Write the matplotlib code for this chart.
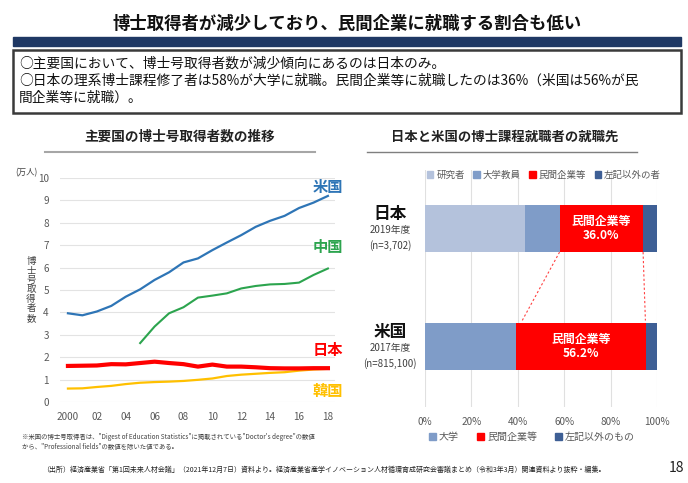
import numpy as np
import matplotlib
matplotlib.use('Agg')
import matplotlib.pyplot as plt
from matplotlib.patches import Rectangle, Patch
from matplotlib.lines import Line2D

plt.rcParams['font.family'] = ['Noto Sans CJK JP', 'DejaVu Sans']

# ---------------- datos ----------------
years = list(range(2000, 2019))
usa = [3.96, 3.87, 4.04, 4.29, 4.70, 5.03, 5.45, 5.79, 6.23, 6.41,
       6.78, 7.12, 7.45, 7.82, 8.09, 8.31, 8.66, 8.90, 9.20]
china_years = list(range(2005, 2019))
china = [2.63, 3.37, 3.96, 4.23, 4.66, 4.75, 4.85, 5.07, 5.18, 5.25,
         5.27, 5.33, 5.67, 5.96]
japan = [1.61, 1.62, 1.63, 1.69, 1.68, 1.74, 1.80, 1.74, 1.69, 1.58,
         1.67, 1.58, 1.58, 1.55, 1.51, 1.50, 1.50, 1.51, 1.51]
korea = [0.60, 0.61, 0.67, 0.72, 0.80, 0.86, 0.89, 0.91, 0.94, 0.99,
         1.05, 1.16, 1.22, 1.26, 1.30, 1.33, 1.40, 1.45, 1.48]
line_names = ['米国', '中国', '日本', '韓国']
xtick_years = list(range(2000, 2019, 2))
xtick_labels = ['2000', '02', '04', '06', '08', '10', '12', '14', '16', '18']

bar_rows = ['日本', '米国']
bar_years = ['2019年度', '2017年度']
bar_n = ['(n=3,702)', '(n=815,100)']
jp_parts = [43.0, 15.0, 36.0, 6.0]      # 研究者, 大学教員, 民間企業等, 左記以外の者
us_parts = [39.2, 56.2, 4.6]            # 大学, 民間企業等, 左記以外のもの
jp_names = ['研究者', '大学教員', '民間企業等', '左記以外の者']
us_names = ['大学', '民間企業等', '左記以外のもの']

W, H = 688, 483
def fx(x): return x / W
def fy(y): return 1 - y / H

fig = plt.figure(figsize=(6.88, 4.83), dpi=100)

# ---------------- cabecera ----------------
fig.text(fx(347), fy(24), '博士取得者が減少しており、民間企業に就職する割合も低い',
         ha='center', va='center', fontsize=12.5, fontweight='bold', color='#111111')
fig.patches.append(Rectangle((fx(13), fy(46)), fx(681) - fx(13), 9 / H,
                             transform=fig.transFigure, color='#1f3864', zorder=1))
fig.patches.append(Rectangle((fx(13), fy(113)), fx(681) - fx(13), 63 / H,
                             transform=fig.transFigure, facecolor='white',
                             edgecolor='#3a3a3a', lw=1.8, zorder=1))
box_lines = ['○主要国において、博士号取得者数が減少傾向にあるのは日本のみ。',
             '○日本の理系博士課程修了者は58%が大学に就職。民間企業等に就職したのは36%（米国は56%が民',
             '間企業等に就職）。']
for i, t in enumerate(box_lines):
    fig.text(fx(19), fy(64 + 17 * i), t, ha='left', va='center', fontsize=9.9, color='#111111')

# subtítulos
fig.text(fx(180), fy(137), '主要国の博士号取得者数の推移', ha='center', va='center',
         fontsize=9.8, fontweight='bold', color='#222222')
fig.text(fx(505), fy(137), '日本と米国の博士課程就職者の就職先', ha='center', va='center',
         fontsize=9.6, fontweight='bold', color='#222222')
fig.lines.append(Line2D([fx(45), fx(315)], [fy(152), fy(152)], transform=fig.transFigure,
                        color='#a6a6a6', lw=1.5))
fig.lines.append(Line2D([fx(367), fx(637)], [fy(152), fy(152)], transform=fig.transFigure,
                        color='#7f7f7f', lw=1.0))

# ---------------- gráfico de líneas ----------------
ax = fig.add_axes([fx(60), fy(402), 275 / W, 224 / H])
ax.plot(years, korea, color='#ffc000', lw=1.6, zorder=3)
ax.plot(years, japan, color='#ff0000', lw=3.0, zorder=4)
ax.plot(china_years, china, color='#2ca44e', lw=1.5, zorder=3)
ax.plot(years, usa, color='#2e75b6', lw=1.6, zorder=3)
ax.set_xlim(1999.45, 2018.49)
ax.set_ylim(0, 10)
ax.set_yticks(range(0, 11))
ax.set_xticks(xtick_years)
ax.set_xticklabels(xtick_labels)
ax.grid(axis='y', color='#e3e3e3', lw=0.8)
ax.set_axisbelow(True)
for s in ax.spines.values():
    s.set_visible(False)
ax.tick_params(length=0, labelsize=7.2, colors='#595959', pad=8)
ax.tick_params(axis='x', pad=7)
label_y = [9.6, 6.9, 2.3, 0.5]
label_c = ['#2e75b6', '#2ca44e', '#ff0000', '#ffc000']
for name, yv, c in zip(line_names, label_y, label_c):
    ax.text(2018, yv, name, ha='center', va='center', fontsize=11, fontweight='bold',
            color=c, clip_on=False)

fig.text(fx(26), fy(173), '(万人)', ha='center', va='center', fontsize=6.0, color='#404040')
fig.text(fx(31), fy(290), '\n'.join('博士号取得者数'), ha='center', va='center',
         fontsize=6.8, linespacing=1.05, color='#404040')
fig.text(fx(22), fy(437), '※米国の博士号取得者は、"Digest of Education Statistics"に掲載されている"Doctor\'s degree"の数値',
         ha='left', va='center', fontsize=4.6, color='#404040')
fig.text(fx(22), fy(447), 'から、"Professional fields"の数値を除いた値である。',
         ha='left', va='center', fontsize=4.6, color='#404040')

# ---------------- gráfico de barras ----------------
bx = fig.add_axes([fx(425), fy(407), 232 / W, 237 / H])
pos = [1, 0]
jp_colors = ['#b4c2dc', '#7f9cc8', '#ff0000', '#3e5f95']
us_colors = ['#7f9cc8', '#ff0000', '#3e5f95']
h = 0.4
left = 0
for v, c in zip(jp_parts, jp_colors):
    bx.barh(pos[0], v, left=left, height=h, color=c, zorder=2)
    left += v
left = 0
for v, c in zip(us_parts, us_colors):
    bx.barh(pos[1], v, left=left, height=h, color=c, zorder=2)
    left += v

jp_start = jp_parts[0] + jp_parts[1]
jp_end = jp_start + jp_parts[2]
us_start = us_parts[0]
us_end = us_start + us_parts[1]
bx.text(jp_start + jp_parts[2] / 2, pos[0], '民間企業等\n%.1f%%' % jp_parts[2], ha='center',
        va='center', color='white', fontsize=8.6, fontweight='bold', linespacing=1.1, zorder=3)
bx.text(us_start + us_parts[1] / 2, pos[1], '民間企業等\n%.1f%%' % us_parts[1], ha='center',
        va='center', color='white', fontsize=8.6, fontweight='bold', linespacing=1.1, zorder=3)
bx.plot([jp_start, us_start + 2.7], [pos[0] - h / 2, pos[1] + h / 2 + 0.02], ls=(0, (2, 2)),
        color='#ff4040', lw=0.8, zorder=3)
bx.plot([jp_end, us_end - 0.4], [pos[0] - h / 2, pos[1] + h / 2 + 0.02], ls=(0, (2, 2)),
        color='#ff4040', lw=0.8, zorder=3)

bx.set_xlim(0, 100)
bx.set_ylim(-0.513, 1.496)
bx.set_xticks(range(0, 101, 20))
bx.set_xticklabels(['%d%%' % v for v in range(0, 101, 20)])
bx.set_yticks([])
bx.grid(axis='x', color='#e0e0e0', lw=0.8)
bx.set_axisbelow(True)
for s in bx.spines.values():
    s.set_visible(False)
bx.tick_params(length=0, labelsize=7.2, colors='#595959', pad=7)

for p, name, yr, n in zip(pos, bar_rows, bar_years, bar_n):
    ypx = 228.5 if p == 1 else 346.5
    fig.text(fx(390), fy(ypx - 14), name, ha='center', va='center', fontsize=12,
             fontweight='bold', color='#111111')
    fig.text(fx(390), fy(ypx + 2), yr, ha='center', va='center', fontsize=7, color='#404040')
    fig.text(fx(390), fy(ypx + 17), n, ha='center', va='center', fontsize=7, color='#404040')

top_handles = [Patch(color=c) for c in jp_colors]
fig.legend(top_handles, jp_names, loc='center', bbox_to_anchor=(fx(544), fy(175)), ncol=4,
           frameon=False, fontsize=6.8, handlelength=0.7, handleheight=0.7,
           handletextpad=0.3, columnspacing=0.9, labelcolor='#595959')
bot_handles = [Patch(color=c) for c in us_colors]
fig.legend(bot_handles, us_names, loc='center', bbox_to_anchor=(fx(532), fy(437)), ncol=3,
           frameon=False, fontsize=7.2, handlelength=0.7, handleheight=0.7,
           handletextpad=0.3, columnspacing=1.8, labelcolor='#595959')

# ---------------- pie ----------------
fig.text(fx(42), fy(470), '（出所）経済産業省「第1回未来人材会議」（2021年12月7日）資料より。経済産業省産学イノベーション人材循環育成研究会審議まとめ（令和3年3月）関連資料より抜粋・編集。',
         ha='left', va='center', fontsize=5.0, color='#222222')
fig.text(fx(676), fy(468), '18', ha='center', va='center', fontsize=10, color='#222222')

fig.savefig('out.png', dpi=100)
